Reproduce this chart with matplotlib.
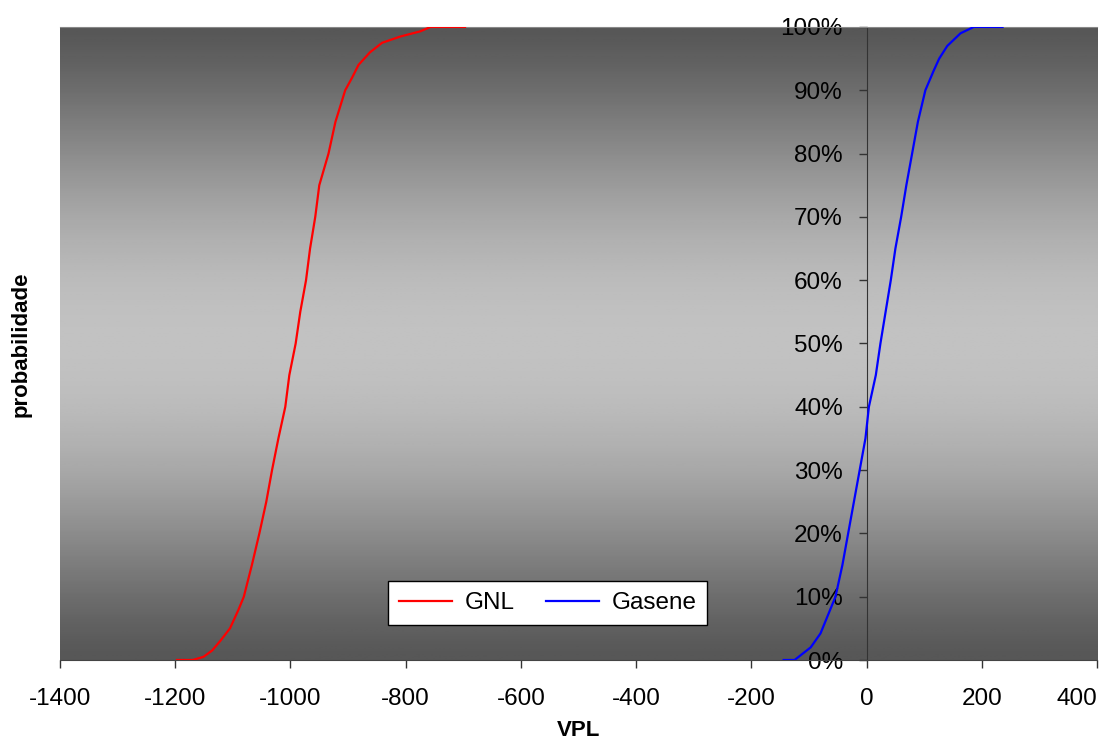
import numpy as np
import matplotlib.pyplot as plt
from matplotlib.ticker import PercentFormatter

plt.rcParams['font.family'] = ['Liberation Sans', 'DejaVu Sans']
plt.rcParams['axes.unicode_minus'] = False

# probabilidade acumulada (%) e VPL
gnl_prob = [0, 0, 0.5, 1.5, 3, 5, 8, 10, 15, 20, 25, 30, 35, 40, 45, 50,
            55, 60, 65, 70, 75, 80, 85, 90, 92, 94, 96, 97.5, 98.5, 99.3, 100, 100]
gnl_vpl = [-1197, -1170, -1151, -1136, -1122, -1105, -1090, -1081, -1067, -1054,
           -1042, -1032, -1021, -1009, -1002, -991, -983, -973, -966, -957,
           -950, -934, -922, -905, -893, -882, -862, -841, -809, -775, -757, -697]

gas_prob = [0, 0, 0.5, 2, 4.2, 10, 15, 20, 25, 30, 35, 40, 45, 50, 55, 60,
            65, 70, 75, 80, 85, 90, 93, 95, 97, 99, 100, 100]
gas_vpl = [-144, -125, -118, -97, -80, -54, -42, -32, -22, -12, -2, 4, 16, 24,
           33, 42, 50, 60, 69, 79, 89, 102, 116, 126, 140, 163, 186, 236]

x_ticks = [-1400, -1200, -1000, -800, -600, -400, -200, 0, 200, 400]
y_ticks = [0, 10, 20, 30, 40, 50, 60, 70, 80, 90, 100]

fig = plt.figure(figsize=(11.2, 7.43), dpi=100)
ax = fig.add_axes([0.0536, 0.1117, 0.9259, 0.852])

# fundo em degrade (escuro em cima e embaixo, claro no meio)
t = np.linspace(0, 1, 256)
shade = 0.34 + 0.42 * np.sin(np.pi * t) ** 1.3
grad = np.tile(shade[:, None], (1, 2))
ax.imshow(grad, cmap='gray', vmin=0, vmax=1, aspect='auto',
          extent=[-1400, 400, 0, 100], origin='lower', zorder=0)

ax.plot(gnl_vpl, gnl_prob, color='#ff0000', lw=1.6, label='GNL', zorder=3)
ax.plot(gas_vpl, gas_prob, color='#0000ff', lw=1.6, label='Gasene', zorder=3)

ax.set_xlim(-1400, 400)
ax.set_ylim(0, 100)
ax.set_xticks(x_ticks)
ax.set_yticks(y_ticks)
ax.yaxis.set_major_formatter(PercentFormatter(decimals=0))

ax.spines['left'].set_position(('data', 0))
ax.spines['left'].set_color('#333333')
ax.spines['bottom'].set_color('#444444')
ax.spines['right'].set_visible(False)
ax.spines['top'].set_color('#888888')
ax.spines['left'].set_zorder(2)

ax.tick_params(axis='both', labelsize=17.5, length=6, width=1, colors='#333333',
               labelcolor='black')
ax.tick_params(axis='y', pad=11)
ax.tick_params(axis='x', pad=14)

# ultimo rotulo (400) encostado na borda, como no original
fig.canvas.draw()
ax.get_xticklabels()[-1].set_ha('right')
ax.get_xticklabels()[-1].set_x(ax.get_xticklabels()[-1].get_position()[0])

ax.set_xlabel('VPL', fontsize=16, fontweight='bold', labelpad=7)
fig.text(0.019, 0.537, 'probabilidade', rotation=90, fontsize=16,
         fontweight='bold', ha='center', va='center')

leg = ax.legend(loc='lower left', bbox_to_anchor=(0.316, 0.055), ncol=2,
                fontsize=17.5, frameon=True, fancybox=False, handlelength=2.2,
                borderpad=0.45, columnspacing=1.3, handletextpad=0.5,
                borderaxespad=0)
leg.get_frame().set_edgecolor('black')
leg.get_frame().set_linewidth(1)
leg.get_frame().set_facecolor('white')
leg.get_frame().set_alpha(1)

fig.savefig('out.png', dpi=100)
